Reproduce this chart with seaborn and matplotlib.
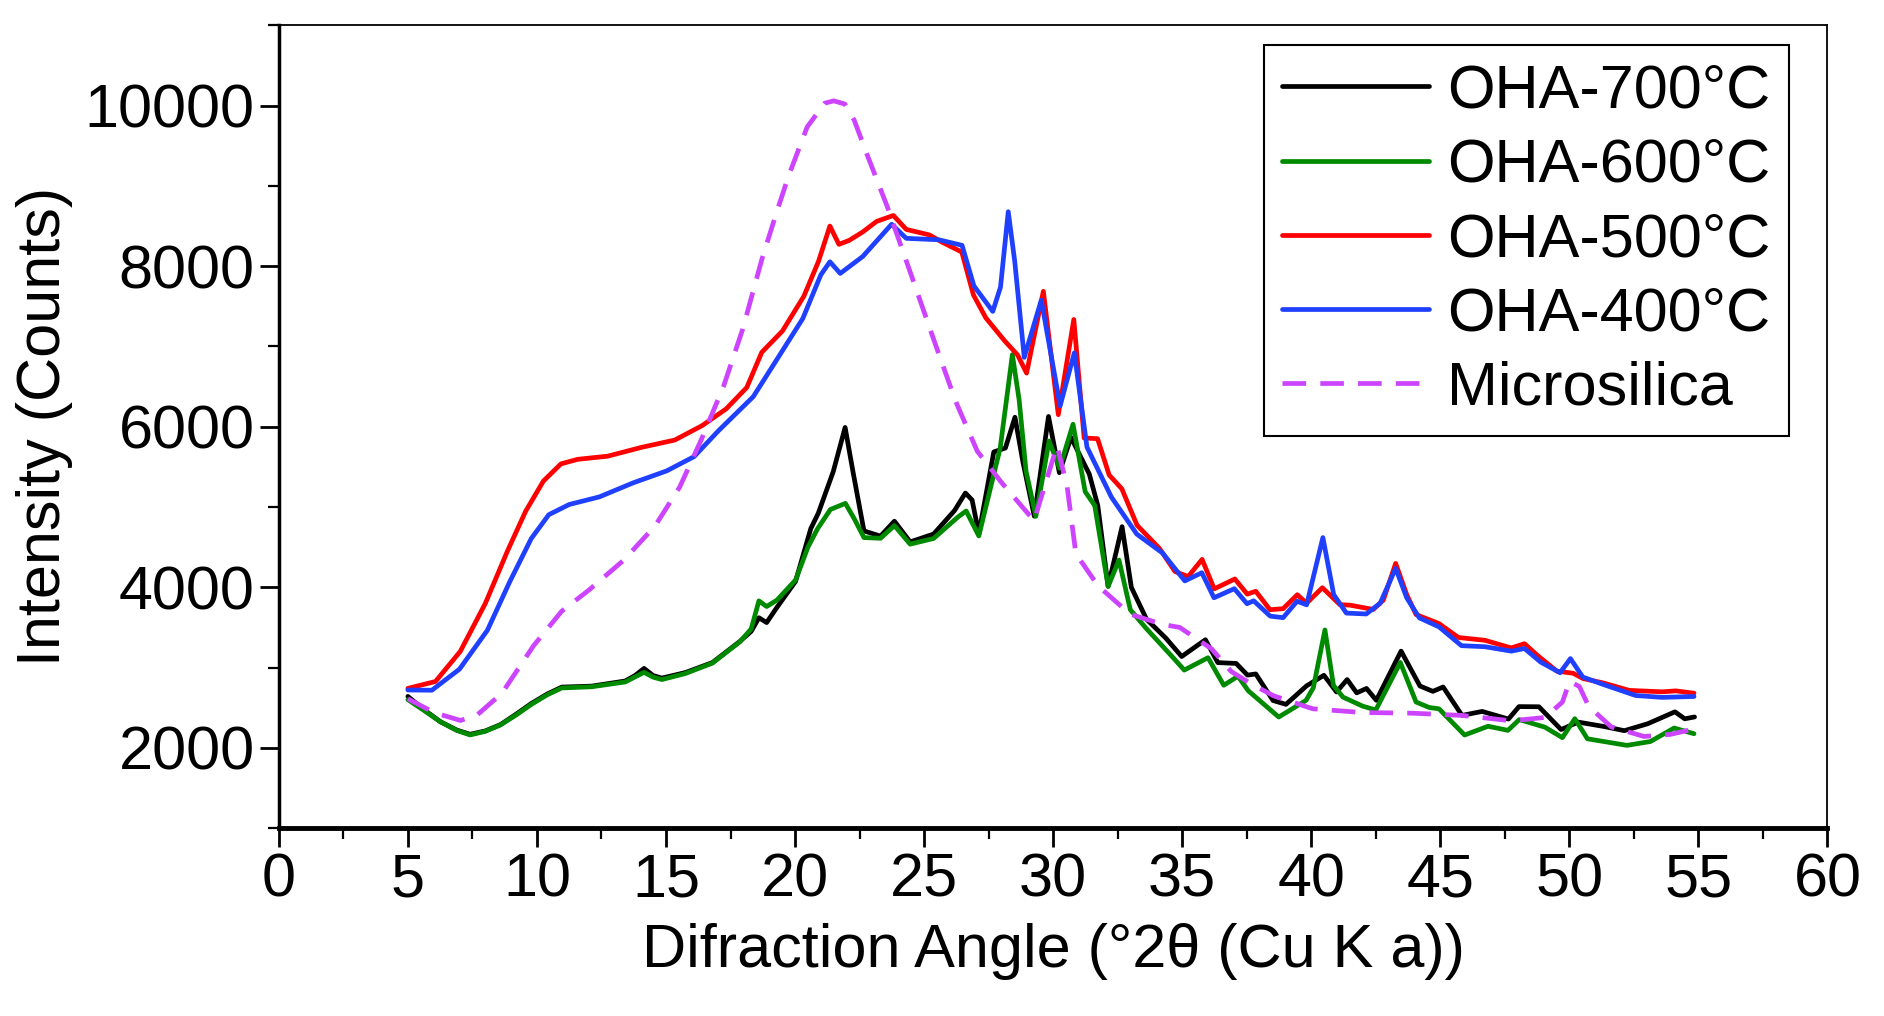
import matplotlib
matplotlib.use("Agg")
import matplotlib.pyplot as plt
import seaborn as sns
import pandas as pd
from matplotlib.ticker import MultipleLocator

# --- data (angle in deg 2theta, intensity in counts) ---
ang_700 = [5.0, 5.6, 6.27, 6.9, 7.41, 8.0, 8.59, 9.2, 9.78, 10.4, 10.96, 12.12, 13.42, 13.8, 14.15, 14.5,
           14.84, 15.75, 16.8, 17.86, 18.3, 18.6, 18.9, 19.3, 20.02, 20.61, 20.9, 21.48, 21.94, 22.25,
           22.67, 23.31, 23.85, 24.46, 25.37, 26.18, 26.6, 26.86, 27.12, 27.7, 28.15, 28.52, 28.83,
           29.27, 29.82, 30.24, 30.69, 31.4, 31.73, 32.13, 32.67, 33.03, 33.62, 34.36, 34.98, 35.9,
           36.38, 37.09, 37.53, 37.85, 38.52, 39.02, 39.82, 40.49, 40.98, 41.39, 41.76, 42.14, 42.52,
           43.48, 44.21, 44.71, 45.11, 45.84, 46.62, 47.64, 48.05, 48.82, 49.68, 50.34, 51.36, 52.13,
           53.04, 54.09, 54.47, 54.85]
int_700 = [2640, 2480, 2322, 2220, 2168, 2210, 2289, 2420, 2551, 2670, 2756, 2768, 2832, 2900, 2989, 2900,
           2868, 2937, 3062, 3325, 3450, 3620, 3560, 3750, 4073, 4731, 4922, 5441, 5991, 5430,
           4702, 4637, 4823, 4565, 4663, 4956, 5174, 5087, 4667, 5686, 5735, 6118, 5558,
           4885, 6128, 5427, 5866, 5410, 5017, 4011, 4755, 3998, 3600, 3368, 3137, 3346,
           3061, 3051, 2905, 2920, 2589, 2541, 2772, 2903, 2695, 2850, 2684, 2739, 2592,
           3204, 2770, 2703, 2757, 2403, 2453, 2358, 2513, 2511, 2227, 2320, 2264, 2213,
           2300, 2448, 2361, 2384]

ang_600 = [5.0, 5.6, 6.27, 6.9, 7.41, 8.0, 8.59, 9.2, 9.78, 10.4, 10.96, 12.12, 13.42, 14.15, 14.5, 14.84,
           15.75, 16.8, 17.86, 18.3, 18.6, 18.9, 19.3, 20.02, 20.5, 20.87, 21.37, 21.95, 22.3, 22.67,
           23.31, 23.85, 24.46, 25.37, 26.3, 26.63, 27.12, 27.95, 28.42, 28.68, 28.95, 29.33, 29.84,
           30.25, 30.77, 31.24, 31.61, 32.13, 32.55, 32.99, 33.6, 34.59, 35.08, 36.0, 36.61, 37.16,
           37.56, 38.74, 39.8, 40.08, 40.53, 40.86, 41.23, 41.99, 42.5, 43.45, 44.06, 44.56, 44.95,
           45.94, 46.85, 47.62, 48.06, 49.05, 49.73, 50.21, 50.7, 52.23, 53.14, 54.06, 54.83]
int_600 = [2600, 2470, 2322, 2215, 2160, 2205, 2285, 2410, 2540, 2660, 2745, 2760, 2820, 2940, 2880, 2850,
           2925, 3055, 3320, 3480, 3830, 3760, 3840, 4090, 4500, 4728, 4969, 5045, 4850, 4619,
           4610, 4768, 4537, 4608, 4872, 4950, 4639, 5738, 6898, 6339, 5445, 4884, 5822,
           5483, 6031, 5191, 5018, 4011, 4339, 3720, 3489, 3143, 2968, 3122, 2779, 2891,
           2710, 2383, 2591, 2748, 3468, 2777, 2631, 2519, 2471, 3063, 2570, 2503, 2485,
           2159, 2268, 2217, 2351, 2257, 2126, 2362, 2112, 2030, 2078, 2246, 2175]

ang_500 = [5.0, 6.07, 7.03, 8.0, 8.86, 9.56, 10.25, 10.93, 11.58, 12.74, 14.04, 15.34, 16.4, 17.33, 18.13,
           18.71, 19.51, 20.34, 20.91, 21.35, 21.7, 22.1, 22.62, 23.16, 23.81, 24.31, 25.2, 25.7, 26.46,
           26.91, 27.39, 28.12, 28.62, 28.97, 29.62, 30.2, 30.8, 31.2, 31.72, 32.17, 32.66, 33.25,
           34.12, 34.72, 35.23, 35.77, 36.24, 37.04, 37.52, 37.85, 38.4, 38.91, 39.46, 39.82, 40.43,
           41.11, 41.5, 42.4, 42.79, 43.27, 43.7, 44.06, 44.95, 45.7, 46.73, 47.24, 47.75, 48.26,
           48.77, 49.51, 50.15, 50.53, 51.3, 52.32, 53.6, 54.12, 54.83]
int_500 = [2740, 2826, 3201, 3798, 4453, 4945, 5323, 5537, 5594, 5633, 5742, 5834, 6014, 6222, 6489,
           6927, 7192, 7625, 8061, 8500, 8272, 8322, 8426, 8558, 8632, 8458, 8390, 8299, 8176,
           7643, 7357, 7070, 6895, 6668, 7687, 6150, 7336, 5859, 5851, 5399, 5227, 4773,
           4483, 4196, 4133, 4347, 3980, 4103, 3914, 3950, 3720, 3733, 3907, 3801, 3994,
           3783, 3777, 3723, 3839, 4297, 3907, 3660, 3547, 3374, 3339, 3291, 3244, 3297,
           3149, 2956, 2928, 2862, 2809, 2715, 2697, 2709, 2680]

ang_400 = [5.0, 5.93, 7.0, 8.08, 8.94, 9.78, 10.46, 11.25, 12.42, 13.73, 15.03, 16.09, 17.03, 18.38,
           19.34, 20.3, 21.0, 21.35, 21.75, 22.62, 23.74, 24.31, 25.57, 26.47, 26.93, 27.66, 27.96,
           28.26, 28.51, 28.88, 29.54, 30.27, 30.82, 31.31, 32.26, 33.24, 34.24, 35.1, 35.76, 36.23,
           37.02, 37.51, 37.77, 38.41, 38.91, 39.45, 39.82, 40.45, 40.87, 41.36, 42.13, 42.67, 43.27,
           43.7, 44.19, 44.95, 45.82, 46.73, 47.75, 48.26, 48.89, 49.64, 50.04, 50.52, 51.3, 52.57,
           53.59, 54.83]
int_400 = [2720, 2717, 2980, 3464, 4064, 4607, 4904, 5031, 5126, 5301, 5450, 5628, 5949, 6374,
           6860, 7348, 7893, 8055, 7910, 8120, 8522, 8347, 8329, 8260, 7754, 7437, 7739,
           8679, 8064, 6864, 7577, 6260, 6920, 5746, 5121, 4662, 4426, 4079, 4181, 3869,
           3982, 3795, 3831, 3640, 3621, 3826, 3781, 4619, 3908, 3678, 3667, 3801, 4236,
           3867, 3618, 3506, 3272, 3259, 3204, 3237, 3067, 2935, 3111, 2881, 2790, 2651,
           2628, 2639]

ang_ms = [5.0, 6.02, 7.04, 7.7, 8.64, 9.87, 10.96, 12.01, 13.35, 14.57, 15.53, 16.38, 17.23, 17.97,
          18.72, 19.31, 19.76, 20.47, 21.15, 21.5, 21.93, 22.29, 22.75, 23.57, 24.49, 25.41, 26.22,
          27.06, 28.03, 29.26, 30.15, 30.54, 30.88, 31.74, 32.98, 34.25, 34.9, 36.14, 36.9, 37.6,
          38.53, 40.05, 41.98, 43.91, 45.84, 47.76, 49.06, 49.73, 50.01, 50.39, 50.75, 51.62, 52.89,
          53.92, 54.83]
int_ms = [2610, 2438, 2340, 2414, 2678, 3272, 3702, 3964, 4334, 4761, 5248, 5848, 6503, 7214,
          8092, 8696, 9134, 9735, 10031, 10060, 10020, 9821, 9424, 8745, 7900, 7052, 6318,
          5695, 5293, 4829, 5762, 5257, 4417, 4017, 3665, 3536, 3500, 3232, 2950, 2810,
          2649, 2486, 2439, 2431, 2403, 2336, 2378, 2570, 2828, 2762, 2515, 2261, 2141,
          2167, 2235]

labels = ["OHA-700°C", "OHA-600°C", "OHA-500°C", "OHA-400°C", "Microsilica"]
colors = ["#000000", "#008a00", "#ff0000", "#2040ff", "#cc44ff"]

sns.set_theme(style="ticks", rc={"axes.edgecolor": "black", "xtick.color": "black",
                                 "ytick.color": "black", "text.color": "black",
                                 "axes.labelcolor": "black"})
plt.rcParams["font.family"] = ["Liberation Sans", "DejaVu Sans"]

fig = plt.figure(figsize=(18.84, 10.16), dpi=100)
ax = fig.add_axes([0.148, 0.185, 0.822, 0.79])

curves = [(ang_700, int_700), (ang_600, int_600), (ang_500, int_500), (ang_400, int_400), (ang_ms, int_ms)]
for (xs, ys), label, color in zip(curves, labels, colors):
    df = pd.DataFrame({"angle": xs, "counts": ys})
    ls = (0, (5.0, 3.0)) if label == "Microsilica" else "-"
    sns.lineplot(data=df, x="angle", y="counts", ax=ax, color=color, linewidth=3.4,
                 linestyle=ls, label=label, sort=False, estimator=None)

ax.set_xlim(0, 60)
ax.set_ylim(1000, 11000)
ax.xaxis.set_major_locator(MultipleLocator(5))
ax.xaxis.set_minor_locator(MultipleLocator(2.5))
ax.yaxis.set_major_locator(MultipleLocator(2000))
ax.yaxis.set_minor_locator(MultipleLocator(1000))
ax.tick_params(axis="both", which="major", length=14, width=2, labelsize=44, direction="out")
ax.tick_params(axis="both", which="minor", length=8, width=1.6, direction="out")

ax.spines["left"].set_linewidth(2.5)
ax.spines["bottom"].set_linewidth(3.5)
ax.spines["top"].set_linewidth(1.3)
ax.spines["right"].set_linewidth(1.3)

ax.set_xlabel("Difraction Angle (°2θ (Cu K a))", fontsize=44, labelpad=10)
ax.set_ylabel("Intensity (Counts)", fontsize=44, labelpad=8)

leg = ax.legend(loc="upper right", bbox_to_anchor=(0.975, 0.975), fontsize=44, frameon=True,
                fancybox=False, edgecolor="black", framealpha=1, handlelength=2.4,
                handletextpad=0.3, labelspacing=0.28, borderpad=0.3, borderaxespad=0)
leg.get_frame().set_linewidth(1.5)

fig.savefig("out.png", dpi=100)
